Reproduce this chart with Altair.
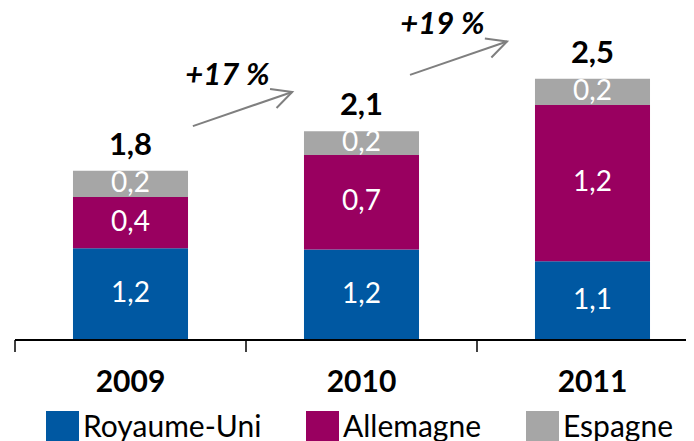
import math
import altair as alt
import pandas as pd

# ---------------- data ----------------
years = ["2009", "2010", "2011"]
countries = ["Royaume-Uni", "Allemagne", "Espagne"]
uk = [1.20, 1.19, 1.10]
de = [0.39, 0.72, 1.19]
es = [0.20, 0.18, 0.20]
bar_colors = ["#0058A2", "#990060", "#A6A6A6"]

growth_labels = ["+17 %", "+19 %"]
# annotation anchors: x in category-slot units (0 = left edge of the 2009 slot), y in value units
arrow_x0 = [0.77, 1.71]
arrow_y0 = [2.13, 2.52]
arrow_x1 = [1.20, 2.13]
arrow_y1 = [2.39, 2.775]
label_x = [0.92, 1.85]
label_y = [2.51, 2.90]

# ---------------- layout ----------------
Y_MIN, Y_MAX = 0.5, 3.03
W, H = 671, 332
SLOT = 231.0                 # pixels per category slot
X_MAX = W / SLOT             # visible part of the slot axis (third slot is cut at the right)
BAR_PAD = 0.251              # gap on each side of a bar, as a fraction of the slot
FONT = "Lato"

rows = []
for i, yr in enumerate(years):
    for j, (c, vals) in enumerate(zip(countries, [uk, de, es])):
        rows.append({"year": yr, "idx": i, "country": c, "value": vals[i], "ord": j})
df = pd.DataFrame(rows)

tot_df = pd.DataFrame({
    "year": years,
    "idx": list(range(len(years))),
    "total": [a + b + c for a, b, c in zip(uk, de, es)],
})

px_y = H / (Y_MAX - Y_MIN)
angles = [
    math.degrees(math.atan2(-(y1 - y0) * px_y, (x1 - x0) * SLOT)) % 360
    for x0, y0, x1, y1 in zip(arrow_x0, arrow_y0, arrow_x1, arrow_y1)
]
arr_df = pd.DataFrame({"x0": arrow_x0, "y0": arrow_y0, "x1": arrow_x1, "y1": arrow_y1, "angle": angles})
pct_df = pd.DataFrame({"x": label_x, "y": label_y, "label": growth_labels})

xscale = alt.Scale(domain=[0, X_MAX], nice=False, zero=False, padding=0)
yscale = alt.Scale(domain=[Y_MIN, Y_MAX], clamp=True, nice=False, zero=False, padding=0)

base = alt.Chart(df).transform_stack(
    stack="value", groupby=["year"], as_=["y0", "y1"],
    sort=[alt.SortField("ord", order="ascending")],
).transform_calculate(
    xs="datum.idx + %f" % BAR_PAD,
    xe="datum.idx + 1 - %f" % BAR_PAD,
    xc="datum.idx + 0.5",
    mid="(max(datum.y0, %f) + datum.y1) / 2" % Y_MIN,
    lab="replace(format(datum.value, '.1f'), '.', ',')",
)

bars = base.mark_bar().encode(
    x=alt.X("xs:Q", scale=xscale, axis=None),
    x2="xe:Q",
    y=alt.Y("y1:Q", scale=yscale, axis=None),
    y2="y0:Q",
    color=alt.Color(
        "country:N",
        scale=alt.Scale(domain=countries, range=bar_colors),
        legend=alt.Legend(
            title=None, orient="none", legendX=31, legendY=403, direction="horizontal",
            symbolType="square", symbolSize=1089, symbolStrokeWidth=0,
            labelFont=FONT, labelFontSize=30, labelColor="black", labelOffset=4,
            columnPadding=44, padding=0, labelLimit=400,
        ),
    ),
)

seg_labels = base.mark_text(color="white", font=FONT, fontSize=28, baseline="middle").encode(
    x=alt.X("xc:Q", scale=xscale, axis=None),
    y=alt.Y("mid:Q", scale=yscale, axis=None),
    text="lab:N",
)

totals_base = alt.Chart(tot_df).transform_calculate(
    xc="datum.idx + 0.5",
    xb="datum.idx",
    lab="replace(format(datum.total, '.1f'), '.', ',')",
)

totals = totals_base.mark_text(
    color="black", font=FONT, fontSize=31, fontWeight="bold", baseline="alphabetic", dy=-16
).encode(
    x=alt.X("xc:Q", scale=xscale, axis=None),
    y=alt.Y("total:Q", scale=yscale, axis=None),
    text="lab:N",
)

# ---- category axis drawn with marks: baseline, slot-boundary ticks, year labels ----
axis_line = totals_base.mark_rule(color="black", strokeWidth=2).encode(
    x=alt.value(0), x2=alt.value(W), y=alt.value(H)
)
axis_ticks = totals_base.mark_rule(color="black", strokeWidth=1.5).encode(
    x=alt.X("xb:Q", scale=xscale, axis=None),
    y=alt.value(H), y2=alt.value(H + 12),
)
year_labels = totals_base.mark_text(
    color="black", font=FONT, fontSize=30, fontWeight="bold", baseline="alphabetic"
).encode(
    x=alt.X("xc:Q", scale=xscale, axis=None),
    y=alt.value(H + 52),
    text="year:N",
)

arrows = alt.Chart(arr_df).mark_rule(color="#7F7F7F", strokeWidth=2).encode(
    x=alt.X("x0:Q", scale=xscale, axis=None),
    x2="x1:Q",
    y=alt.Y("y0:Q", scale=yscale, axis=None),
    y2="y1:Q",
)

heads = alt.Chart(arr_df).mark_point(
    shape="M-2,-1L0,0L-2,1", filled=False, size=400, color="#7F7F7F", strokeWidth=2, opacity=1
).encode(
    x=alt.X("x1:Q", scale=xscale, axis=None),
    y=alt.Y("y1:Q", scale=yscale, axis=None),
    angle=alt.Angle("angle:Q", scale=None),
)

pct = alt.Chart(pct_df).mark_text(
    font=FONT, fontSize=31, fontWeight="bold", fontStyle="italic", color="black", baseline="middle"
).encode(
    x=alt.X("x:Q", scale=xscale, axis=None),
    y=alt.Y("y:Q", scale=yscale, axis=None),
    text="label:N",
)

chart = alt.layer(
    bars, seg_labels, totals, axis_line, axis_ticks, year_labels, arrows, heads, pct
).properties(
    width=W,
    height=H,
    autosize=alt.AutoSizeParams(type="none"),
    padding={"left": 7, "top": 0, "right": 0, "bottom": 101},
).configure_view(stroke=None)

chart.save("out.html", embed_options={"renderer": "svg", "actions": False})
